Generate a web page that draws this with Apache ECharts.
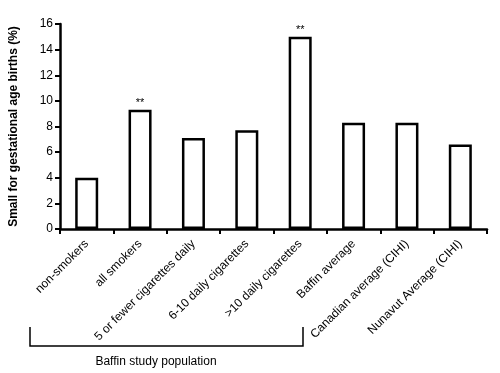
<!DOCTYPE html>
<html><head><meta charset="utf-8">
<script src="https://cdn.jsdelivr.net/npm/echarts@6/dist/echarts.min.js"></script>
<style>html,body{margin:0;padding:0;background:#fff}#c{width:500px;height:373px}</style>
</head><body><div id="c"></div>
<script>
const categories = ["non-smokers","all smokers","5 or fewer cigarettes daily","6-10 daily cigarettes",">10 daily cigarettes","Baffin average","Canadian average (CIHI)","Nunavut Average (CIHI)"];
const values = [4.0, 9.3, 7.1, 7.7, 15.0, 8.3, 8.3, 6.6];
const significance = ["", "**", "", "", "**", "", "", ""];
const yTicks = [0, 2, 4, 6, 8, 10, 12, 14, 16];
const yTitle = "Small for gestational age births (%)";
const groupLabel = "Baffin study population";

const chart = echarts.init(document.getElementById('c'), null, {renderer: 'canvas'});
const font = 'Liberation Sans, Arial, sans-serif';
chart.setOption({
  animation: false,
  grid: {left: 58, top: 24, right: 13, bottom: 144, containLabel: false},
  xAxis: {
    type: 'category', data: categories,
    axisLine: {lineStyle: {color: '#000', width: 2.5}},
    axisTick: {show: true, length: 5, lineStyle: {color: '#000', width: 2}},
    axisLabel: {rotate: 45, color: '#000', fontSize: 12, fontFamily: font, margin: 13, interval: 0}
  },
  yAxis: {
    type: 'value', min: yTicks[0], max: yTicks[yTicks.length-1], interval: 2,
    name: yTitle, nameLocation: 'middle', nameGap: 40, nameRotate: 90,
    nameTextStyle: {color: '#000', fontSize: 12, fontWeight: 'bold', fontFamily: font},
    axisLine: {show: true, lineStyle: {color: '#000', width: 2.5}},
    axisTick: {show: true, length: 5, lineStyle: {color: '#000', width: 2}},
    axisLabel: {color: '#000', fontSize: 12, fontFamily: font, margin: 7},
    splitLine: {show: false}
  },
  series: [{
    type: 'bar', data: values, barWidth: 23,
    itemStyle: {color: '#fff', borderColor: '#000', borderWidth: 2.5},
    label: {show: true, position: 'top', distance: 1, color: '#000', fontSize: 11, fontFamily: font,
      formatter: p => significance[p.dataIndex]}
  }],
  graphic: [
    {type: 'polyline', shape: {points: [[30, 327], [30, 346], [303, 346], [303, 327]]},
     style: {stroke: '#000', lineWidth: 1.5, fill: null}},
    {type: 'text', x: 156, y: 362, style: {text: groupLabel, fill: '#000', fontSize: 12, fontFamily: font, align: 'center', verticalAlign: 'middle'}}
  ]
});
</script></body></html>
